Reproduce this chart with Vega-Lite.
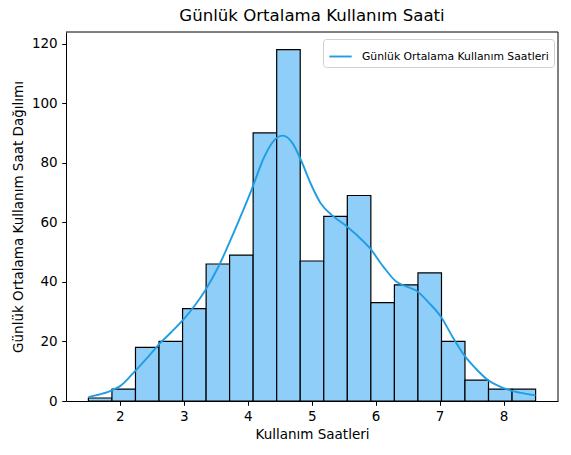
{
  "$schema": "https://vega.github.io/schema/vega-lite/v6.json",
  "width": 492,
  "height": 369,
  "autosize": {"type": "none"},
  "padding": {"left": 66, "top": 32, "right": 13, "bottom": 54},
  "background": "white",
  "title": {"text": "Günlük Ortalama Kullanım Saati", "fontSize": 16.6, "fontWeight": "normal", "font": "DejaVu Sans", "color": "black", "offset": 7},
  "config": {
    "font": "DejaVu Sans",
    "view": {"stroke": null},
    "axis": {"grid": false, "domainColor": "black", "domainWidth": 1, "tickColor": "black", "tickSize": 4.3, "labelPadding": 4.5, "labelFontSize": 13.5, "titleFontSize": 13.5, "titleFontWeight": "normal", "labelColor": "black", "titleColor": "black", "labelFont": "DejaVu Sans", "titleFont": "DejaVu Sans"}
  },
  "datasets": {
    "hist": [
      {"start": 1.51, "end": 1.878, "count": 1},
      {"start": 1.878, "end": 2.246, "count": 4},
      {"start": 2.246, "end": 2.614, "count": 18},
      {"start": 2.614, "end": 2.982, "count": 20},
      {"start": 2.982, "end": 3.35, "count": 31},
      {"start": 3.35, "end": 3.717, "count": 46},
      {"start": 3.717, "end": 4.085, "count": 49},
      {"start": 4.085, "end": 4.453, "count": 90},
      {"start": 4.453, "end": 4.821, "count": 118},
      {"start": 4.821, "end": 5.189, "count": 47},
      {"start": 5.189, "end": 5.557, "count": 62},
      {"start": 5.557, "end": 5.925, "count": 69},
      {"start": 5.925, "end": 6.293, "count": 33},
      {"start": 6.293, "end": 6.661, "count": 39},
      {"start": 6.661, "end": 7.029, "count": 43},
      {"start": 7.029, "end": 7.396, "count": 20},
      {"start": 7.396, "end": 7.764, "count": 7},
      {"start": 7.764, "end": 8.132, "count": 4},
      {"start": 8.132, "end": 8.5, "count": 4}
    ],
    "frame": [{"xmax": 8.85, "ymax": 123.9}],
    "kde": [
      {"x": 1.51, "y": 1.3, "series": "Günlük Ortalama Kullanım Saatleri"},
      {"x": 1.7, "y": 2.3, "series": "Günlük Ortalama Kullanım Saatleri"},
      {"x": 1.88, "y": 3.6, "series": "Günlük Ortalama Kullanım Saatleri"},
      {"x": 2.0, "y": 4.9, "series": "Günlük Ortalama Kullanım Saatleri"},
      {"x": 2.25, "y": 10.3, "series": "Günlük Ortalama Kullanım Saatleri"},
      {"x": 2.45, "y": 15, "series": "Günlük Ortalama Kullanım Saatleri"},
      {"x": 2.62, "y": 19.2, "series": "Günlük Ortalama Kullanım Saatleri"},
      {"x": 2.8, "y": 23, "series": "Günlük Ortalama Kullanım Saatleri"},
      {"x": 3.0, "y": 27.5, "series": "Günlük Ortalama Kullanım Saatleri"},
      {"x": 3.17, "y": 32, "series": "Günlük Ortalama Kullanım Saatleri"},
      {"x": 3.34, "y": 37.3, "series": "Günlük Ortalama Kullanım Saatleri"},
      {"x": 3.54, "y": 45, "series": "Günlük Ortalama Kullanım Saatleri"},
      {"x": 3.8, "y": 57.5, "series": "Günlük Ortalama Kullanım Saatleri"},
      {"x": 4.06, "y": 70.9, "series": "Günlük Ortalama Kullanım Saatleri"},
      {"x": 4.26, "y": 82, "series": "Günlük Ortalama Kullanım Saatleri"},
      {"x": 4.42, "y": 87.7, "series": "Günlük Ortalama Kullanım Saatleri"},
      {"x": 4.55, "y": 89.1, "series": "Günlük Ortalama Kullanım Saatleri"},
      {"x": 4.7, "y": 86.6, "series": "Günlük Ortalama Kullanım Saatleri"},
      {"x": 4.83, "y": 81, "series": "Günlük Ortalama Kullanım Saatleri"},
      {"x": 4.98, "y": 73.2, "series": "Günlük Ortalama Kullanım Saatleri"},
      {"x": 5.14, "y": 66.4, "series": "Günlük Ortalama Kullanım Saatleri"},
      {"x": 5.34, "y": 62, "series": "Günlük Ortalama Kullanım Saatleri"},
      {"x": 5.55, "y": 58.6, "series": "Günlük Ortalama Kullanım Saatleri"},
      {"x": 5.7, "y": 55.8, "series": "Günlük Ortalama Kullanım Saatleri"},
      {"x": 5.91, "y": 51.3, "series": "Günlük Ortalama Kullanım Saatleri"},
      {"x": 6.12, "y": 45.1, "series": "Günlük Ortalama Kullanım Saatleri"},
      {"x": 6.32, "y": 40.1, "series": "Günlük Ortalama Kullanım Saatleri"},
      {"x": 6.5, "y": 38.3, "series": "Günlük Ortalama Kullanım Saatleri"},
      {"x": 6.63, "y": 37.1, "series": "Günlük Ortalama Kullanım Saatleri"},
      {"x": 6.84, "y": 32.8, "series": "Günlük Ortalama Kullanım Saatleri"},
      {"x": 7.02, "y": 28.3, "series": "Günlük Ortalama Kullanım Saatleri"},
      {"x": 7.2, "y": 21.6, "series": "Günlük Ortalama Kullanım Saatleri"},
      {"x": 7.38, "y": 15.5, "series": "Günlük Ortalama Kullanım Saatleri"},
      {"x": 7.56, "y": 11, "series": "Günlük Ortalama Kullanım Saatleri"},
      {"x": 7.75, "y": 7.1, "series": "Günlük Ortalama Kullanım Saatleri"},
      {"x": 8.0, "y": 4.3, "series": "Günlük Ortalama Kullanım Saatleri"},
      {"x": 8.25, "y": 2.8, "series": "Günlük Ortalama Kullanım Saatleri"},
      {"x": 8.5, "y": 1.9, "series": "Günlük Ortalama Kullanım Saatleri"}
    ]
  },
  "layer": [
    {
      "data": {"name": "hist"},
      "mark": {"type": "rect", "fill": "#8ECEF9", "stroke": "black", "strokeWidth": 1.2},
      "encoding": {
        "x": {"field": "start", "type": "quantitative", "scale": {"domain": [1.16, 8.85], "nice": false, "zero": false}, "axis": {"values": [2, 3, 4, 5, 6, 7, 8], "format": "d", "title": "Kullanım Saatleri", "titlePadding": 4}},
        "x2": {"field": "end"},
        "y": {"field": "count", "type": "quantitative", "scale": {"domain": [0, 123.9], "nice": false}, "axis": {"values": [0, 20, 40, 60, 80, 100, 120], "format": "d", "title": "Günlük Ortalama Kullanım Saat Dağılımı", "titlePadding": 6}},
        "y2": {"datum": 0}
      }
    },
    {
      "data": {"name": "kde"},
      "mark": {"type": "line", "interpolate": "monotone", "strokeWidth": 1.9},
      "encoding": {
        "x": {"field": "x", "type": "quantitative"},
        "y": {"field": "y", "type": "quantitative"},
        "color": {"field": "series", "type": "nominal", "scale": {"range": ["#1F9EE3"]},
          "legend": {"title": null, "orient": "none", "legendX": 257, "legendY": 7, "symbolType": "stroke", "symbolSize": 500, "symbolStrokeWidth": 1.9, "labelFontSize": 10.8, "labelFont": "DejaVu Sans", "labelColor": "black", "labelOffset": 9, "labelLimit": 400, "padding": 5, "strokeColor": "#d0d0d0", "fillColor": "white", "cornerRadius": 3}
        }
      }
    },
    {
      "data": {"name": "frame"},
      "mark": {"type": "rule", "color": "black", "strokeWidth": 1},
      "encoding": {"y": {"field": "ymax", "type": "quantitative"}}
    },
    {
      "data": {"name": "frame"},
      "mark": {"type": "rule", "color": "black", "strokeWidth": 1},
      "encoding": {"x": {"field": "xmax", "type": "quantitative"}}
    }
  ]
}
